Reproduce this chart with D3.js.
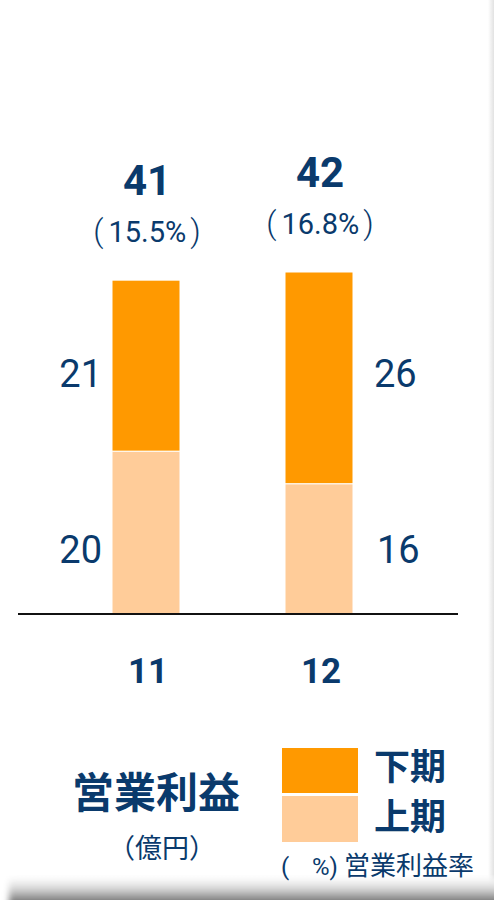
<!DOCTYPE html>
<html>
<head>
<meta charset="utf-8">
<script src="https://cdn.jsdelivr.net/npm/d3@7"></script>
<style>
  html, body { margin: 0; padding: 0; background: #fff; }
  svg { display: block; }
  text { font-family: "Noto Sans CJK JP", "Noto Sans", sans-serif; fill: #0a3a6c; }
  text.num { font-family: Roboto, "Liberation Sans", sans-serif; }
</style>
</head>
<body>
<svg width="494" height="900"></svg>
<script>
// data
var categories = ["11", "12"];
var firstHalf = [20, 16];     // 上期
var secondHalf = [21, 26];    // 下期
var totals = [41, 42];
var margins = ["15.5%", "16.8%"];
var seriesNames = ["下期", "上期"];
var colors = ["#ff9900", "#ffcc99"];

var svg = d3.select("svg"),
    width = +svg.attr("width"),
    height = +svg.attr("height");

// card shadow
var defs = svg.append("defs");
var gb = defs.append("linearGradient").attr("id", "shB")
    .attr("x1", 0).attr("y1", 0).attr("x2", 0).attr("y2", 1);
gb.append("stop").attr("offset", "0%").attr("stop-color", "#fff");
gb.append("stop").attr("offset", "35%").attr("stop-color", "#d8d8d8");
gb.append("stop").attr("offset", "100%").attr("stop-color", "#4a4a4a");
var gr = defs.append("linearGradient").attr("id", "shR")
    .attr("x1", 0).attr("y1", 0).attr("x2", 1).attr("y2", 0);
gr.append("stop").attr("offset", "0%").attr("stop-color", "#fff");
gr.append("stop").attr("offset", "100%").attr("stop-color", "#e2e2e2");
var blur = defs.append("filter").attr("id", "bl").attr("x", "-5%").attr("width", "110%");
blur.append("feGaussianBlur").attr("stdDeviation", 3);

svg.append("rect").attr("x", 488).attr("y", 0).attr("width", 6).attr("height", height)
    .attr("fill", "url(#shR)");
svg.append("rect").attr("x", 9).attr("y", 878).attr("width", 500).attr("height", 30)
    .attr("fill", "url(#shB)").attr("filter", "url(#bl)");

var baseY = 614;
var y = d3.scaleLinear().domain([0, 42]).range([baseY, 272]);
var x = d3.scalePoint().domain(categories).range([146, 319]);
var barW = 68;

var stacked = categories.map(function(c, i) {
  return { cat: c, lo: firstHalf[i], hi: secondHalf[i], total: totals[i], pct: margins[i] };
});

var g = svg.append("g");

// lower segment (上期)
g.selectAll("rect.lo").data(stacked).enter().append("rect")
  .attr("class", "lo")
  .attr("x", d => x(d.cat) - barW / 2)
  .attr("y", d => y(d.lo))
  .attr("width", barW)
  .attr("height", d => y(0) - y(d.lo))
  .attr("fill", colors[1])
  .attr("stroke", "#fff").attr("stroke-width", 1);

// upper segment (下期)
g.selectAll("rect.hi").data(stacked).enter().append("rect")
  .attr("class", "hi")
  .attr("x", d => x(d.cat) - barW / 2)
  .attr("y", d => y(d.lo + d.hi))
  .attr("width", barW)
  .attr("height", d => y(d.lo) - y(d.lo + d.hi))
  .attr("fill", colors[0])
  .attr("stroke", "#fff").attr("stroke-width", 1);

// baseline
svg.append("line").attr("x1", 18).attr("x2", 458)
  .attr("y1", y(0)).attr("y2", y(0))
  .attr("stroke", "#111").attr("stroke-width", 2);

// totals and margin
g.selectAll("text.tot").data(stacked).enter().append("text")
  .attr("class", "num")
  .attr("x", d => x(d.cat) + 1)
  .attr("y", d => y(d.total) - 85)
  .attr("text-anchor", "middle")
  .attr("font-size", 42).attr("font-weight", "bold")
  .text(d => d.total);

var pct = g.selectAll("text.pct").data(stacked).enter().append("text")
  .attr("class", "num")
  .attr("x", d => x(d.cat) + 1)
  .attr("y", d => y(d.total) - 38)
  .attr("text-anchor", "middle")
  .attr("font-size", 29);
pct.append("tspan").attr("font-size", 32).attr("font-weight", 300).text("(");
pct.append("tspan").attr("dx", 5).text(d => d.pct);
pct.append("tspan").attr("dx", 4).attr("font-size", 32).attr("font-weight", 300).text(")");

// segment values: left of first bar, right of second
g.selectAll("text.hiV").data(stacked).enter().append("text")
  .attr("class", "num")
  .attr("x", (d, i) => i === 0 ? x(d.cat) - barW / 2 - 10 : x(d.cat) + barW / 2 + 21)
  .attr("y", 387)
  .attr("text-anchor", (d, i) => i === 0 ? "end" : "start")
  .attr("font-size", 38)
  .text(d => d.hi);

g.selectAll("text.loV").data(stacked).enter().append("text")
  .attr("class", "num")
  .attr("x", (d, i) => i === 0 ? x(d.cat) - barW / 2 - 10 : x(d.cat) + barW / 2 + 24)
  .attr("y", 563)
  .attr("text-anchor", (d, i) => i === 0 ? "end" : "start")
  .attr("font-size", 38)
  .text(d => d.lo);

// category labels
g.selectAll("text.cat").data(categories).enter().append("text")
  .attr("class", "num")
  .attr("x", d => x(d) + 2)
  .attr("y", 683)
  .attr("text-anchor", "middle")
  .attr("font-size", 35).attr("font-weight", "bold")
  .text(d => d);

// title
svg.append("text").attr("x", 156).attr("y", 808)
  .attr("text-anchor", "middle").attr("font-size", 42).attr("font-weight", "bold")
  .text("営業利益");
svg.append("text").attr("x", 162).attr("y", 858)
  .attr("text-anchor", "middle").attr("font-size", 27)
  .text("（億円）");

// legend
var leg = svg.append("g");
leg.selectAll("rect").data(seriesNames).enter().append("rect")
  .attr("x", 282).attr("y", (d, i) => 748 + i * 48)
  .attr("width", 76).attr("height", (d, i) => i === 0 ? 45 : 46)
  .attr("fill", (d, i) => colors[i]);
leg.selectAll("text").data(seriesNames).enter().append("text")
  .attr("x", 374).attr("y", (d, i) => 780 + i * 50)
  .attr("font-size", 36).attr("font-weight", "bold")
  .text(d => d);

svg.append("text").attr("class", "num").attr("x", 281).attr("y", 875).attr("font-size", 24).text("(");
svg.append("text").attr("class", "num").attr("x", 312).attr("y", 875).attr("font-size", 24).text("%)");
svg.append("text").attr("x", 344).attr("y", 875).attr("font-size", 26).text("営業利益率");
</script>
</body>
</html>
